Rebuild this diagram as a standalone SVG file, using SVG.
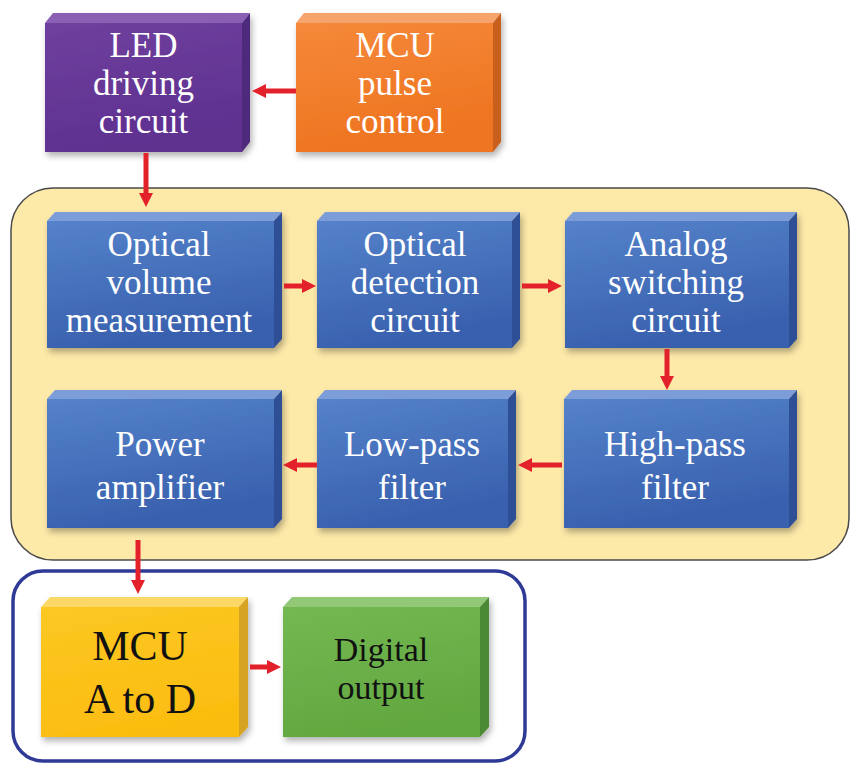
<svg xmlns="http://www.w3.org/2000/svg" width="860" height="773" viewBox="0 0 860 773">
<defs>
<linearGradient id="gBlue" x1="0" y1="0" x2="0.3" y2="1"><stop offset="0" stop-color="#5582ca"/><stop offset="1" stop-color="#3860ae"/></linearGradient>
<linearGradient id="gPurple" x1="0" y1="0" x2="0.3" y2="1"><stop offset="0" stop-color="#70409e"/><stop offset="1" stop-color="#5e3090"/></linearGradient>
<linearGradient id="gOrange" x1="0" y1="0" x2="0.3" y2="1"><stop offset="0" stop-color="#f5893a"/><stop offset="1" stop-color="#ee7420"/></linearGradient>
<linearGradient id="gYellow" x1="0" y1="0" x2="0.3" y2="1"><stop offset="0" stop-color="#fcc824"/><stop offset="1" stop-color="#fbbd10"/></linearGradient>
<linearGradient id="gGreen" x1="0" y1="0" x2="0.3" y2="1"><stop offset="0" stop-color="#74b852"/><stop offset="1" stop-color="#62a840"/></linearGradient>
<filter id="sh" x="-10%" y="-10%" width="125%" height="130%"><feDropShadow dx="2" dy="4" stdDeviation="3" flood-color="#000" flood-opacity="0.3"/></filter>
<marker id="ah" markerUnits="userSpaceOnUse" markerWidth="16" markerHeight="16" refX="1" refY="7" orient="auto"><path d="M0,0 L14,7 L0,14 z" fill="#e3212b"/></marker>
</defs>
<style>
.t{font-family:"Liberation Serif","Times New Roman",serif;text-anchor:middle;fill:#fff;font-size:35px}
.tb{fill:#111}
.blue .f{fill:url(#gBlue)} .blue .tp{fill:#7d9dd8} .blue .sd{fill:#2f4f96}
.purple .f{fill:url(#gPurple)} .purple .tp{fill:#8a5eb4} .purple .sd{fill:#4e2a7c}
.orange .f{fill:url(#gOrange)} .orange .tp{fill:#f6a36c} .orange .sd{fill:#c95e1c}
.yellow .f{fill:url(#gYellow)} .yellow .tp{fill:#fcd866} .yellow .sd{fill:#d6a424}
.green .f{fill:url(#gGreen)} .green .tp{fill:#92c876} .green .sd{fill:#4c8a34}
.box{filter:url(#sh)}
.c line{stroke:#e3212b;stroke-width:5;marker-end:url(#ah)}
</style>
<rect width="860" height="773" fill="#fff"/>
<g id="container-analog">
<rect x="11" y="188" width="838" height="372" rx="42" fill="#fde9a8" stroke="#4a4a4a" stroke-width="1.5"/>
</g>
<g id="container-digital">
<rect x="13" y="571" width="512" height="190" rx="30" fill="#fff" stroke="#2e3a96" stroke-width="3.5"/>
</g>
<g id="led" class="purple">
<g class="box"><rect class="f" x="45" y="23" width="197" height="129"/><polygon class="tp" points="45,23 242,23 250,13 53,13"/><polygon class="sd" points="242,23 250,13 250,142 242,152"/></g>
<text class="t" x="143.5" y="57">LED</text><text class="t" x="143.5" y="95">driving</text><text class="t" x="143.5" y="133">circuit</text>
</g>
<g id="mcu-pulse" class="orange">
<g class="box"><rect class="f" x="296" y="23" width="197" height="129"/><polygon class="tp" points="296,23 493,23 501,13 304,13"/><polygon class="sd" points="493,23 501,13 501,142 493,152"/></g>
<text class="t" x="395" y="57">MCU</text><text class="t" x="395" y="95">pulse</text><text class="t" x="395" y="133">control</text>
</g>
<g id="optical-volume" class="blue">
<g class="box"><rect class="f" x="47" y="221" width="227" height="127"/><polygon class="tp" points="47,221 274,221 282,212 55,212"/><polygon class="sd" points="274,221 282,212 282,339 274,348"/></g>
<text class="t" x="159" y="256">Optical</text><text class="t" x="159" y="294">volume</text><text class="t" x="159" y="332">measurement</text>
</g>
<g id="optical-detection" class="blue">
<g class="box"><rect class="f" x="317" y="221" width="195" height="127"/><polygon class="tp" points="317,221 512,221 520,212 325,212"/><polygon class="sd" points="512,221 520,212 520,339 512,348"/></g>
<text class="t" x="415" y="256">Optical</text><text class="t" x="415" y="294">detection</text><text class="t" x="415" y="332">circuit</text>
</g>
<g id="analog-switching" class="blue">
<g class="box"><rect class="f" x="565" y="221" width="224" height="127"/><polygon class="tp" points="565,221 789,221 797,212 573,212"/><polygon class="sd" points="789,221 797,212 797,339 789,348"/></g>
<text class="t" x="676" y="256">Analog</text><text class="t" x="676" y="294">switching</text><text class="t" x="676" y="332">circuit</text>
</g>
<g id="power-amplifier" class="blue">
<g class="box"><rect class="f" x="47" y="399" width="227" height="129"/><polygon class="tp" points="47,399 274,399 282,390 55,390"/><polygon class="sd" points="274,399 282,390 282,519 274,528"/></g>
<text class="t" x="160" y="456">Power</text><text class="t" x="160" y="499">amplifier</text>
</g>
<g id="low-pass" class="blue">
<g class="box"><rect class="f" x="317" y="399" width="191" height="129"/><polygon class="tp" points="317,399 508,399 516,390 325,390"/><polygon class="sd" points="508,399 516,390 516,519 508,528"/></g>
<text class="t" x="412" y="456">Low-pass</text><text class="t" x="412" y="499">filter</text>
</g>
<g id="high-pass" class="blue">
<g class="box"><rect class="f" x="564" y="399" width="225" height="129"/><polygon class="tp" points="564,399 789,399 797,390 572,390"/><polygon class="sd" points="789,399 797,390 797,519 789,528"/></g>
<text class="t" x="675" y="456">High-pass</text><text class="t" x="675" y="499">filter</text>
</g>
<g id="mcu-adc" class="yellow">
<g class="box"><rect class="f" x="41" y="607" width="198" height="130"/><polygon class="tp" points="41,607 239,607 248,597 50,597"/><polygon class="sd" points="239,607 248,597 248,727 239,737"/></g>
<text class="t tb" x="140" y="660" style="font-size:42px">MCU</text><text class="t tb" x="140" y="713" style="font-size:42px">A to D</text>
</g>
<g id="digital-output" class="green">
<g class="box"><rect class="f" x="283" y="607" width="197" height="130"/><polygon class="tp" points="283,607 480,607 489,597 292,597"/><polygon class="sd" points="480,607 489,597 489,727 480,737"/></g>
<text class="t tb" x="381" y="661" style="font-size:34px">Digital</text><text class="t tb" x="381" y="699" style="font-size:34px">output</text>
</g>
<g id="connectors" class="c">
<line x1="296" y1="91" x2="265" y2="91"/>
<line x1="146" y1="153" x2="146" y2="194"/>
<line x1="284" y1="286" x2="303" y2="286"/>
<line x1="522" y1="286" x2="549" y2="286"/>
<line x1="667" y1="349" x2="667" y2="377"/>
<line x1="562" y1="465" x2="531" y2="465"/>
<line x1="317" y1="465" x2="296" y2="465"/>
<line x1="138" y1="540" x2="138" y2="581"/>
<line x1="250" y1="667" x2="268" y2="667"/>
</g>
</svg>
